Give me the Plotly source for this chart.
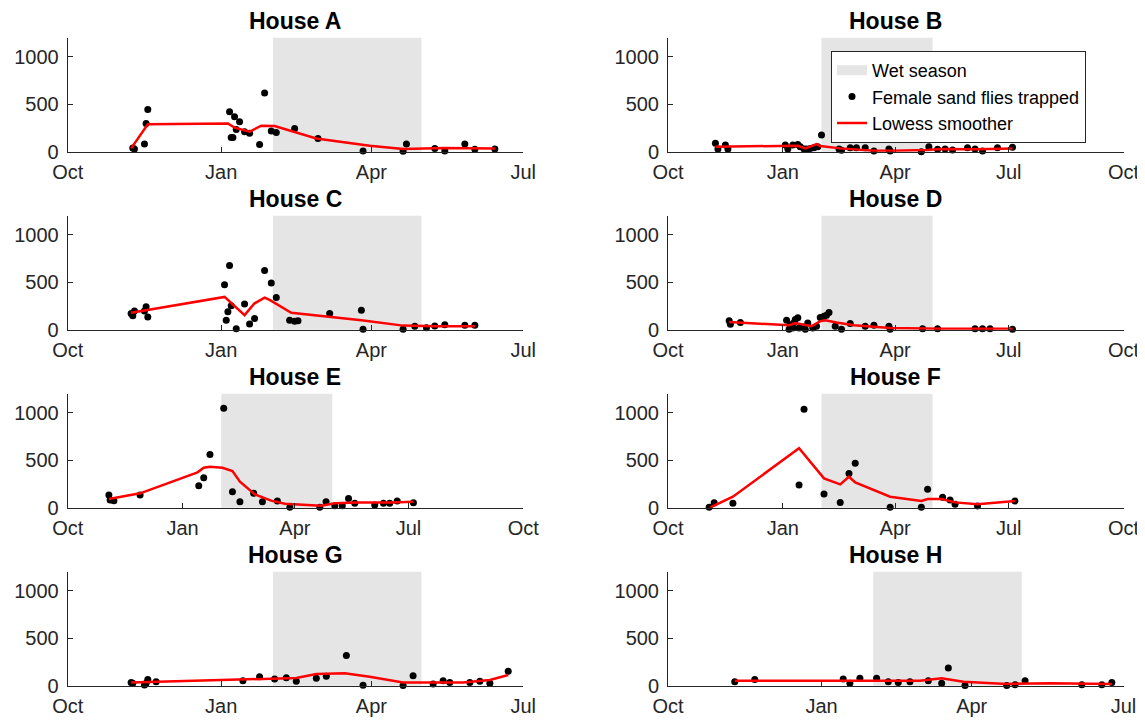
import plotly.graph_objects as go

# ---------------- data ----------------
SEASON_START = "2006-10-01"
END_JUL = "2007-07-01"
END_OCT = "2007-10-01"
WET_START = "2007-02-01"
WET_END = "2007-05-01"
Y_MAX = 1200
Y_TICKS = [0, 500, 1000]

house_names = ["House A", "House B", "House C", "House D",
               "House E", "House F", "House G", "House H"]
x_end = [END_JUL, END_OCT, END_JUL, END_OCT, END_OCT, END_OCT, END_JUL, END_JUL]

a_dates = ["2006-11-09", "2006-11-10", "2006-11-16", "2006-11-17", "2006-11-18",
           "2007-01-06", "2007-01-07", "2007-01-08", "2007-01-09", "2007-01-10",
           "2007-01-12", "2007-01-15", "2007-01-18", "2007-01-24", "2007-01-27",
           "2007-01-31", "2007-02-03", "2007-02-14", "2007-02-28", "2007-03-27",
           "2007-04-20", "2007-04-22", "2007-05-09", "2007-05-15", "2007-05-27",
           "2007-06-02", "2007-06-14"]
a_counts = [40, 28, 80, 298, 445, 421, 150, 150, 368, 235, 316, 210, 193, 77, 617,
            217, 203, 245, 140, 8, 5, 80, 35, 8, 80, 25, 28]
a_smooth_dates = ["2006-11-08", "2006-11-18", "2007-01-05", "2007-01-09", "2007-01-18",
                  "2007-01-25", "2007-02-02", "2007-02-14", "2007-02-27", "2007-03-31",
                  "2007-04-20", "2007-05-15", "2007-06-14"]
a_smooth = [35, 288, 298, 253, 210, 274, 270, 210, 140, 63, 28, 39, 35]

b_dates = ["2006-11-08", "2006-11-10", "2006-11-16", "2006-11-18", "2007-01-03",
           "2007-01-05", "2007-01-09", "2007-01-13", "2007-01-15", "2007-01-18",
           "2007-01-20", "2007-01-23", "2007-01-26", "2007-01-29", "2007-02-01",
           "2007-02-15", "2007-02-17", "2007-02-24", "2007-03-01", "2007-03-08",
           "2007-03-15", "2007-03-27", "2007-03-28", "2007-04-22", "2007-04-28",
           "2007-05-05", "2007-05-11", "2007-05-17", "2007-05-29", "2007-06-04",
           "2007-06-10", "2007-06-22", "2007-07-04"]
b_counts = [88, 28, 70, 28, 70, 28, 70, 77, 53, 28, 28, 35, 42, 53, 175, 28, 14, 42,
            42, 42, 7, 28, 7, 0, 53, 25, 28, 18, 42, 28, 7, 42, 46]
b_smooth_dates = ["2006-11-08", "2007-01-03", "2007-01-13", "2007-01-19", "2007-01-28",
                  "2007-01-31", "2007-02-16", "2007-03-15", "2007-03-31", "2007-04-26",
                  "2007-05-08", "2007-06-06", "2007-07-04"]
b_smooth = [53, 63, 63, 35, 81, 60, 35, 10, 10, 18, 28, 25, 35]

c_dates = ["2006-11-08", "2006-11-09", "2006-11-10", "2006-11-16", "2006-11-17",
           "2006-11-18", "2007-01-03", "2007-01-04", "2007-01-05", "2007-01-06",
           "2007-01-07", "2007-01-10", "2007-01-15", "2007-01-18", "2007-01-21",
           "2007-01-27", "2007-01-31", "2007-02-03", "2007-02-11", "2007-02-14",
           "2007-02-16", "2007-03-07", "2007-03-26", "2007-03-27", "2007-04-20",
           "2007-04-27", "2007-05-04", "2007-05-09", "2007-05-15", "2007-05-27",
           "2007-06-02"]
c_counts = [171, 146, 196, 196, 242, 135, 473, 100, 189, 676, 253, 11, 270, 60, 117,
            623, 491, 338, 100, 89, 93, 171, 206, 5, 5, 36, 21, 39, 53, 46, 46]
c_smooth_dates = ["2006-11-08", "2007-01-03", "2007-01-15", "2007-01-21", "2007-01-27",
                  "2007-01-30", "2007-02-12", "2007-03-26", "2007-04-20", "2007-05-09",
                  "2007-06-02"]
c_smooth = [178, 345, 153, 278, 338, 313, 178, 100, 43, 36, 36]

d_dates = ["2006-11-19", "2006-11-20", "2006-11-28", "2007-01-04", "2007-01-06",
           "2007-01-07", "2007-01-09", "2007-01-10", "2007-01-11", "2007-01-13",
           "2007-01-14", "2007-01-18", "2007-01-19", "2007-01-21", "2007-01-25",
           "2007-01-28", "2007-01-31", "2007-02-03", "2007-02-05", "2007-02-07",
           "2007-02-12", "2007-02-17", "2007-02-24", "2007-03-08", "2007-03-15",
           "2007-03-27", "2007-03-28", "2007-04-23", "2007-05-05", "2007-06-04",
           "2007-06-10", "2007-06-16", "2007-07-04"]
d_counts = [93, 57, 75, 100, 5, 53, 18, 75, 107, 125, 18, 28, 4, 71, 18, 36, 128,
            142, 153, 182, 36, 4, 64, 36, 46, 36, 4, 11, 11, 11, 11, 11, 4]
d_smooth_dates = ["2006-11-19", "2007-01-06", "2007-01-11", "2007-01-24", "2007-01-31",
                  "2007-02-04", "2007-02-13", "2007-02-27", "2007-03-28", "2007-05-08",
                  "2007-07-04"]
d_smooth = [82, 46, 71, 36, 89, 100, 75, 46, 18, 11, 11]

e_dates = ["2006-11-03", "2006-11-04", "2006-11-07", "2006-11-28", "2007-01-14",
           "2007-01-18", "2007-01-23", "2007-02-03", "2007-02-10", "2007-02-16",
           "2007-02-27", "2007-03-06", "2007-03-18", "2007-03-28", "2007-04-21",
           "2007-04-26", "2007-05-03", "2007-05-09", "2007-05-14", "2007-05-19",
           "2007-06-04", "2007-06-11", "2007-06-16", "2007-06-22", "2007-07-05"]
e_counts = [133, 81, 74, 133, 232, 316, 561, 1046, 168, 63, 151, 63, 70, 5, 5, 63,
            21, 21, 98, 46, 28, 46, 46, 70, 53]
e_smooth_dates = ["2006-11-03", "2006-11-28", "2007-01-13", "2007-01-18", "2007-01-23",
                  "2007-02-02", "2007-02-10", "2007-02-16", "2007-02-28", "2007-03-13",
                  "2007-03-24", "2007-04-22", "2007-05-03", "2007-05-21", "2007-06-18",
                  "2007-07-05"]
e_smooth = [91, 151, 372, 421, 432, 421, 386, 274, 140, 74, 42, 21, 46, 56, 56, 63]

f_dates = ["2006-11-03", "2006-11-07", "2006-11-22", "2007-01-14", "2007-01-18",
           "2007-02-03", "2007-02-16", "2007-02-23", "2007-02-28", "2007-03-28",
           "2007-04-22", "2007-04-27", "2007-05-09", "2007-05-15", "2007-05-19",
           "2007-06-06", "2007-07-06"]
f_counts = [5, 53, 46, 239, 1035, 144, 56, 361, 467, 5, 5, 193, 109, 81, 35, 18, 70]
f_smooth_dates = ["2006-11-04", "2006-11-22", "2007-01-14", "2007-02-03", "2007-02-16",
                  "2007-02-23", "2007-02-28", "2007-03-28", "2007-04-22", "2007-04-27",
                  "2007-05-08", "2007-05-19", "2007-06-06", "2007-07-06"]
f_smooth = [3, 116, 625, 309, 246, 326, 267, 116, 70, 91, 91, 56, 35, 70]

g_dates = ["2006-11-08", "2006-11-09", "2006-11-16", "2006-11-17", "2006-11-18",
           "2006-11-23", "2007-01-14", "2007-01-24", "2007-02-02", "2007-02-09",
           "2007-02-15", "2007-02-27", "2007-03-05", "2007-03-17", "2007-03-27",
           "2007-04-20", "2007-04-26", "2007-05-08", "2007-05-14", "2007-05-18",
           "2007-05-30", "2007-06-05", "2007-06-11", "2007-06-22"]
g_counts = [35, 25, 7, 25, 64, 42, 53, 95, 71, 85, 46, 78, 99, 318, 5, 3, 106, 18,
            53, 35, 35, 46, 25, 152]
g_smooth_dates = ["2006-11-08", "2007-01-14", "2007-02-15", "2007-02-27", "2007-03-16",
                  "2007-03-31", "2007-04-20", "2007-05-08", "2007-05-26", "2007-06-11",
                  "2007-06-22"]
g_smooth = [35, 64, 81, 124, 131, 95, 35, 35, 35, 60, 113]

h_dates = ["2006-11-10", "2006-11-22", "2007-01-14", "2007-01-18", "2007-01-24",
           "2007-02-03", "2007-02-10", "2007-02-16", "2007-02-23", "2007-03-06",
           "2007-03-14", "2007-03-18", "2007-03-28", "2007-04-22", "2007-04-27",
           "2007-05-03", "2007-06-06", "2007-06-18", "2007-06-24"]
h_counts = [42, 64, 71, 25, 78, 78, 42, 35, 42, 53, 25, 187, 3, 3, 11, 53, 11, 11, 35]
h_smooth_dates = ["2006-11-10", "2007-01-14", "2007-02-09", "2007-03-01", "2007-03-14",
                  "2007-03-27", "2007-04-22", "2007-05-18", "2007-06-24"]
h_smooth = [53, 53, 53, 53, 78, 42, 18, 25, 18]

panels = [
    (a_dates, a_counts, a_smooth_dates, a_smooth),
    (b_dates, b_counts, b_smooth_dates, b_smooth),
    (c_dates, c_counts, c_smooth_dates, c_smooth),
    (d_dates, d_counts, d_smooth_dates, d_smooth),
    (e_dates, e_counts, e_smooth_dates, e_smooth),
    (f_dates, f_counts, f_smooth_dates, f_smooth),
    (g_dates, g_counts, g_smooth_dates, g_smooth),
    (h_dates, h_counts, h_smooth_dates, h_smooth),
]

# ---------------- layout geometry (pixels, window coordinates) ----------------
PAGE_OFF = 8                      # default body margin of the html page
W, H = 1145 - PAGE_OFF, 723 - PAGE_OFF
col_px = [(67.7, 523.3), (668.0, 1123.6)]
row_zero_px = [151.7, 329.7, 507.7, 685.7]
plot_h = 114.0

FONT = "Liberation Sans, Arial, Helvetica, sans-serif"
AX_COL = "#262626"
WET_COL = "#e5e5e5"


def px_x(v):
    return (v - PAGE_OFF) / W


def px_y(v):
    return 1 - (v - PAGE_OFF) / H


fig = go.Figure()

# legend entry for the wet-season band (the band itself is drawn as shapes)
fig.add_trace(go.Scatter(x=[None], y=[None], mode="lines",
                         line=dict(color=WET_COL, width=20),
                         name="Wet season", showlegend=True,
                         xaxis="x", yaxis="y"))

layout = dict(
    width=W, height=H,
    margin=dict(l=0, r=0, t=0, b=0, autoexpand=False),
    paper_bgcolor="white", plot_bgcolor="white",
    font=dict(family=FONT, color=AX_COL, size=20),
    shapes=[], annotations=[],
    showlegend=True,
    legend=dict(x=px_x(831), y=px_y(51), xanchor="left", yanchor="top",
                bgcolor="white", bordercolor=AX_COL, borderwidth=1,
                font=dict(family=FONT, size=18, color="black"),
                traceorder="normal", itemwidth=30, tracegroupgap=0,
                entrywidth=240, entrywidthmode="pixels"),
)

for i, (name, (dts, cnt, sd, sv)) in enumerate(zip(house_names, panels)):
    r, c = divmod(i, 2)
    k = "" if i == 0 else str(i + 1)
    xa, ya = "x" + k, "y" + k
    x0p, x1p = col_px[c]
    zp = row_zero_px[r]
    tp = zp - plot_h
    xdom = [px_x(x0p), px_x(x1p)]
    ydom = [px_y(zp), px_y(tp)]

    layout["xaxis" + k] = dict(
        domain=xdom, anchor=ya, type="date", automargin=False,
        range=[SEASON_START, x_end[i] + " 01:00"],
        tick0=SEASON_START, dtick="M3", tickformat="%b",
        ticks="inside", ticklen=5, tickwidth=1, tickcolor=AX_COL,
        showline=True, linecolor=AX_COL, linewidth=1,
        showgrid=False, zeroline=False, ticklabelstandoff=2,
        tickfont=dict(size=20, color=AX_COL, family=FONT),
    )
    layout["yaxis" + k] = dict(
        domain=ydom, anchor=xa, range=[0, Y_MAX], tickvals=Y_TICKS,
        automargin=False,
        ticks="inside", ticklen=5, tickwidth=1, tickcolor=AX_COL,
        showline=True, linecolor=AX_COL, linewidth=1,
        showgrid=False, zeroline=False, ticklabelstandoff=4,
        tickfont=dict(size=20, color=AX_COL, family=FONT),
    )
    layout["shapes"].append(dict(
        type="rect", xref=xa, yref=ya + " domain",
        x0=WET_START, x1=WET_END, y0=0, y1=1,
        fillcolor=WET_COL, line=dict(width=0), layer="below"))
    layout["annotations"].append(dict(
        text="<b>" + name + "</b>", xref="paper", yref="paper",
        x=(xdom[0] + xdom[1]) / 2, y=px_y(tp - 16.5),
        xanchor="center", yanchor="middle", showarrow=False,
        font=dict(family=FONT, size=23, color="black")))

    fig.add_trace(go.Scatter(
        x=dts, y=cnt, mode="markers", xaxis=xa, yaxis=ya,
        marker=dict(color="black", size=7),
        name="Female sand flies trapped", showlegend=(i == 0),
        cliponaxis=False))
    fig.add_trace(go.Scatter(
        x=sd, y=sv, mode="lines", xaxis=xa, yaxis=ya,
        line=dict(color="#ff0000", width=2.5),
        name="Lowess smoother", showlegend=(i == 0)))

fig.update_layout(**layout)
fig.write_html("out.html")
